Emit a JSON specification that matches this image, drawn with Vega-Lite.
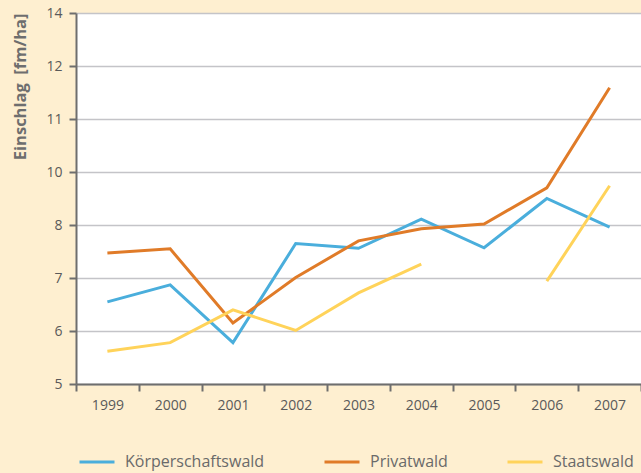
{
  "$schema": "https://vega.github.io/schema/vega-lite/v6.json",
  "width": 565,
  "height": 371,
  "autosize": {"type": "none"},
  "padding": {"left": 76, "top": 13, "right": 0, "bottom": 89},
  "background": "#FEEFD0",
  "view": {"fill": "white", "stroke": null},
  "data": {
    "values": [
      {"Jahr": "1999", "Besitzart": "Körperschaftswald", "Einschlag": 6.55},
      {"Jahr": "2000", "Besitzart": "Körperschaftswald", "Einschlag": 6.87},
      {"Jahr": "2001", "Besitzart": "Körperschaftswald", "Einschlag": 5.78},
      {"Jahr": "2002", "Besitzart": "Körperschaftswald", "Einschlag": 7.65},
      {"Jahr": "2003", "Besitzart": "Körperschaftswald", "Einschlag": 7.56},
      {"Jahr": "2004", "Besitzart": "Körperschaftswald", "Einschlag": 8.11},
      {"Jahr": "2005", "Besitzart": "Körperschaftswald", "Einschlag": 7.57},
      {"Jahr": "2006", "Besitzart": "Körperschaftswald", "Einschlag": 8.5},
      {"Jahr": "2007", "Besitzart": "Körperschaftswald", "Einschlag": 7.96},
      {"Jahr": "1999", "Besitzart": "Privatwald", "Einschlag": 7.47},
      {"Jahr": "2000", "Besitzart": "Privatwald", "Einschlag": 7.55},
      {"Jahr": "2001", "Besitzart": "Privatwald", "Einschlag": 6.15},
      {"Jahr": "2002", "Besitzart": "Privatwald", "Einschlag": 7.01},
      {"Jahr": "2003", "Besitzart": "Privatwald", "Einschlag": 7.7},
      {"Jahr": "2004", "Besitzart": "Privatwald", "Einschlag": 7.93},
      {"Jahr": "2005", "Besitzart": "Privatwald", "Einschlag": 8.02},
      {"Jahr": "2006", "Besitzart": "Privatwald", "Einschlag": 8.7},
      {"Jahr": "2007", "Besitzart": "Privatwald", "Einschlag": 10.59},
      {"Jahr": "1999", "Besitzart": "Staatswald", "Einschlag": 5.62},
      {"Jahr": "2000", "Besitzart": "Staatswald", "Einschlag": 5.78},
      {"Jahr": "2001", "Besitzart": "Staatswald", "Einschlag": 6.4},
      {"Jahr": "2002", "Besitzart": "Staatswald", "Einschlag": 6.01},
      {"Jahr": "2003", "Besitzart": "Staatswald", "Einschlag": 6.72},
      {"Jahr": "2004", "Besitzart": "Staatswald", "Einschlag": 7.26},
      {"Jahr": "2005", "Besitzart": "Staatswald", "Einschlag": null},
      {"Jahr": "2006", "Besitzart": "Staatswald", "Einschlag": 6.94},
      {"Jahr": "2007", "Besitzart": "Staatswald", "Einschlag": 8.74}
    ]
  },
  "mark": {"type": "line", "strokeWidth": 3, "invalid": "break-paths-show-domains"},
  "encoding": {
    "x": {
      "field": "Jahr",
      "type": "ordinal",
      "scale": {"type": "band", "paddingInner": 0, "paddingOuter": 0},
      "axis": {
        "title": null,
        "labelAngle": 0,
        "tickBand": "extent",
        "tickSize": 7,
        "tickWidth": 2,
        "tickColor": "#6e6e6e",
        "domainColor": "#6e6e6e",
        "domainWidth": 2,
        "labelFont": "Open Sans",
        "labelFontSize": 14,
        "labelColor": "#5a5a5a",
        "labelPadding": 7,
        "grid": false
      }
    },
    "y": {
      "field": "Einschlag",
      "type": "quantitative",
      "scale": {"domain": [5, 12], "nice": false, "zero": false},
      "axis": {
        "title": "Einschlag\u00a0\u00a0[fm/ha]",
        "titleFont": "Open Sans",
        "titleFontSize": 16.5,
        "titleFontWeight": "bold",
        "titleColor": "#6e6e6e",
        "titleAnchor": "end",
        "titlePadding": 17,
        "values": [5, 6, 7, 8, 9, 10, 11, 12],
        "labelExpr": "datum.value == 9 ? '10' : datum.value == 10 ? '11' : datum.value == 11 ? '12' : datum.value == 12 ? '14' : datum.label",
        "labelFont": "Open Sans",
        "labelFontSize": 14,
        "labelColor": "#5a5a5a",
        "labelPadding": 7,
        "tickSize": 7,
        "tickWidth": 2,
        "tickColor": "#6e6e6e",
        "domainColor": "#6e6e6e",
        "domainWidth": 2,
        "grid": true,
        "gridColor": "#c4c4c8",
        "gridWidth": 1.5
      }
    },
    "color": {
      "field": "Besitzart",
      "type": "nominal",
      "scale": {
        "domain": ["Körperschaftswald", "Privatwald", "Staatswald"],
        "range": ["#4AAEDC", "#E07B28", "#FFD35A"]
      },
      "legend": {
        "title": null,
        "orient": "none",
        "legendX": 2,
        "legendY": 430,
        "direction": "horizontal",
        "symbolType": "stroke",
        "symbolSize": 1225,
        "symbolStrokeWidth": 3,
        "labelFont": "Open Sans",
        "labelFontSize": 16,
        "labelColor": "#6a6a6a",
        "labelOffset": 9,
        "columnPadding": 53,
        "labelLimit": 300,
        "encode": {
          "symbols": {
            "update": {
              "stroke": {"signal": "datum.value == 'Staatswald' ? '#FFBB22' : scale('color', datum.value)"}
            }
          }
        }
      }
    }
  }
}
